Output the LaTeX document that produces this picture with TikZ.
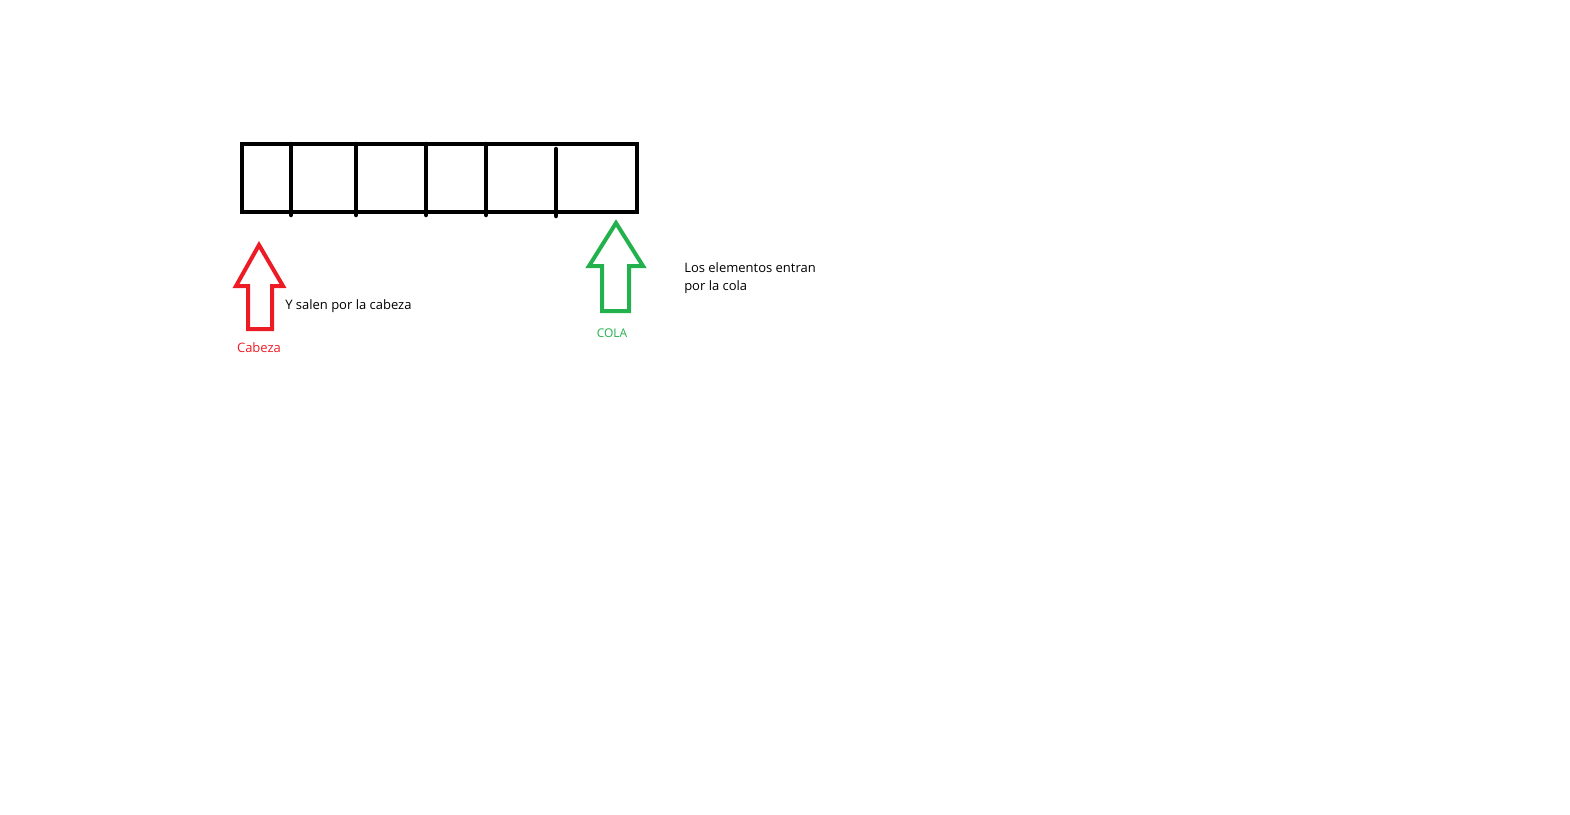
\documentclass[tikz,border=0pt]{standalone}
\usepackage{fontspec}
\setmainfont{Open Sans}
\definecolor{paintred}{HTML}{ED1C24}
\definecolor{paintgreen}{HTML}{22B14C}

\begin{document}
\begin{tikzpicture}[x=1pt,y=-1pt,line width=4.5pt]
\useasboundingbox (0,0) rectangle (1570,814);
\draw (242,144) rectangle (637,212);
\foreach \x in {291,356,426,486} \draw[line cap=round] (\x,144) -- (\x,215);
\draw[line cap=round] (556,149) -- (556,216);
\draw[paintred,line width=4pt] (259,245) -- (283,286) -- (272,286) -- (272,329) -- (248,329) -- (248,286) -- (236,286) -- cycle;
\draw[paintgreen,line width=4pt] (616,223) -- (643,266) -- (629,266) -- (629,311) -- (602,311) -- (602,266) -- (589,266) -- cycle;
\node[anchor=west,inner sep=0pt,font=\fontsize{13}{16}\selectfont] (salen) at (283,306) {Y salen por la cabeza};
\node[text=paintred,font=\fontsize{13}{16}\selectfont] (cabeza) at (259,348) {Cabeza};
\node[text=paintgreen,font=\fontsize{12}{14}\selectfont] (cola) at (612,333) {COLA};
\node[anchor=north west,align=left,inner sep=0pt,font=\fontsize{13}{18}\selectfont] (entran) at (682,260) {Los elementos entran\\por la cola};
\end{tikzpicture}
\end{document}
